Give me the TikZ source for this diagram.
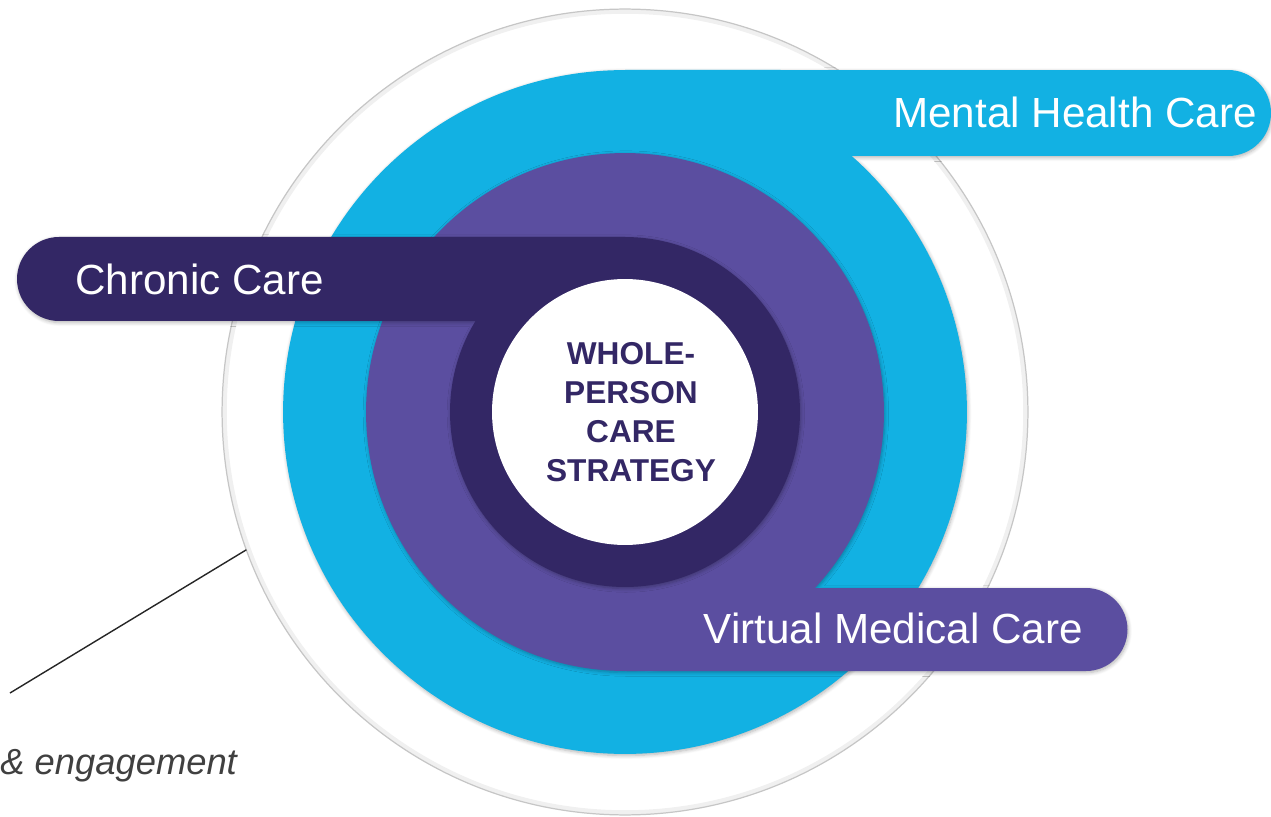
\documentclass[tikz,border=0pt]{standalone}
\usepackage{fontspec}
\setmainfont{Liberation Sans}
\usetikzlibrary{positioning,shadows.blur}
\definecolor{cyanband}{HTML}{12B1E3}
\definecolor{violetband}{HTML}{5B4EA0}
\definecolor{darkband}{HTML}{332765}
\definecolor{notegray}{HTML}{404040}

\begin{document}
\begin{tikzpicture}[
    x=0.02cm, y=-0.02cm,
    ring/.style={circle, inner sep=0pt, outer sep=0pt},
    tablabel/.style={text=white, font=\fontsize{24}{28}\selectfont, inner sep=0pt},
    soft/.style={blur shadow={shadow xshift=0.5pt, shadow yshift=-0.9pt, shadow blur steps=6, shadow opacity=30}}
]
\useasboundingbox (0,0) rectangle (1271,817);

\coordinate (c) at (625,412);

% thin guide ring round everything
\node[ring, draw=gray!12, line width=2.5pt, minimum size=16.02cm] at (c) {};
\node[ring, draw=gray!45, line width=0.7pt, minimum size=16.12cm] (outer) at (c) {};

% outer band + its tab
\fill[cyanband, soft] (c) circle[radius=6.84cm]
    (625,156) -- (1228,156) arc[start angle=-90, end angle=90, radius=0.86cm] -- (625,70) -- cycle;

% middle band + its tab
\fill[violetband, soft] (c) circle[radius=5.18cm]
    (625,671) -- (1086,671) arc[start angle=-90, end angle=90, radius=0.83cm] -- (625,588) -- cycle;

% inner band + its tab
\fill[darkband, soft] (c) circle[radius=3.5cm]
    (625,237) -- (59,237) arc[start angle=90, end angle=270, radius=0.84cm] -- (625,321) -- cycle;

% core
\node[ring, fill=white, minimum size=5.32cm] (core) at (c) {};
\node[align=center, text=darkband, font=\bfseries\fontsize{18}{22.2}\selectfont] (title) at (631,412)
    {WHOLE-\\PERSON\\CARE\\STRATEGY};

% tab labels
\node[tablabel, anchor=base east] (mental) at (1257,128) {Mental Health Care};
\node[tablabel, anchor=base west] (chronic) at (75,295) {Chronic Care};
\node[tablabel, anchor=base east] (virtual) at (1083,643) {Virtual Medical Care};

% leader to the note
\coordinate (lead) at (10,693);
\draw[line width=0.8pt, black!85] (outer.200) -- (lead);
\node[anchor=base west, inner sep=0pt, text=notegray, font=\itshape\fontsize{20.7}{24}\selectfont] (note) at (0,774) {\& engagement};

\end{tikzpicture}
\end{document}
